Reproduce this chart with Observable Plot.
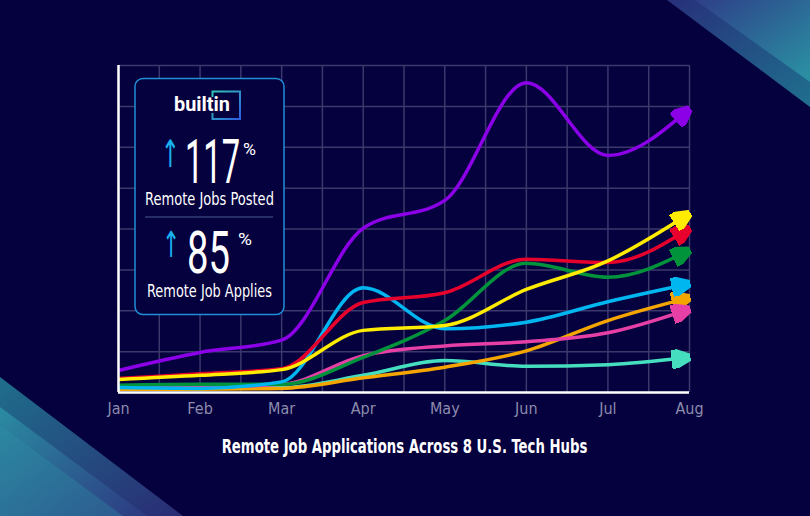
<!DOCTYPE html>
<html><head><meta charset="utf-8">
<script src="https://cdn.jsdelivr.net/npm/d3@7"></script>
<script src="https://cdn.jsdelivr.net/npm/@observablehq/plot@0.6"></script>
<style>
html,body{margin:0;padding:0;background:#05003e;}
#wrap{position:relative;width:810px;height:516px;overflow:hidden;background:#05003e;}
#deco,#over,#chart{position:absolute;left:0;top:0;}
#chart svg{background:transparent;}
</style></head><body>
<div id="wrap">
<svg id="deco" width="810" height="516">
  <defs>
    <linearGradient id="gA" x1="0" y1="0" x2="1" y2="1">
      <stop offset="0" stop-color="#27307a"/><stop offset="1" stop-color="#1f6f8e"/>
    </linearGradient>
    <linearGradient id="gB" x1="0" y1="0" x2="1" y2="1">
      <stop offset="0" stop-color="#2e3f88"/><stop offset="1" stop-color="#2a93a4"/>
    </linearGradient>
    <linearGradient id="gC" x1="0" y1="0" x2="1" y2="1">
      <stop offset="0" stop-color="#1f6e8c"/><stop offset="1" stop-color="#292c74"/>
    </linearGradient>
    <linearGradient id="gD" x1="0" y1="0" x2="1" y2="1">
      <stop offset="0" stop-color="#2a8ca2"/><stop offset="1" stop-color="#2d3a82"/>
    </linearGradient>
  </defs>
  <polygon points="667,0 810,0 810,107" fill="url(#gA)"/>
  <polygon points="695,0 810,0 810,82" fill="url(#gB)"/>
  <polygon points="0,377 183,516 0,516" fill="url(#gC)"/>
  <polygon points="0,407 147,516 0,516" fill="url(#gD)"/>
  <polygon points="0,425 123,516 0,516" fill="#2f8fa6" fill-opacity="0.35"/>
</svg>
<div id="chart"></div>
<svg id="over" width="810" height="516" font-family="'Liberation Sans Narrow','DejaVu Sans Condensed','Roboto Condensed',Roboto,sans-serif">
  <defs>
    <linearGradient id="gLogo" x1="0" y1="0" x2="1" y2="1">
      <stop offset="0" stop-color="#2fc9b4"/><stop offset="1" stop-color="#2f5ee0"/>
    </linearGradient>
  </defs>
  <rect x="135" y="78.5" width="149" height="236" rx="8" fill="#05003e" stroke="#1f8fd6" stroke-width="1.5"/>
  <text class="fit" data-w="56" x="174" y="111.5" font-family="Roboto,sans-serif" font-weight="700" font-size="21" fill="#fff">builtin</text>
  <path d="M212.5,97 V91.5 H240 V119 H212.5 V113" fill="none" stroke="url(#gLogo)" stroke-width="2"/>
  <text class="fit" data-w="19" x="161" y="167" fill="#19b0f0" font-family="'DejaVu Sans',sans-serif" font-size="38">↑</text>
  <text class="fit" data-w="55" x="185" y="183" fill="#fff" font-family="Roboto,sans-serif" font-size="62" font-weight="400">117</text>
  <text class="fit" data-w="13" x="243" y="155" fill="#fff" font-family="Roboto,sans-serif" font-size="17">%</text>
  <text class="fit" data-w="129" x="209.5" y="205" text-anchor="middle" fill="#fff" font-size="18">Remote Jobs Posted</text>
  <line x1="145" x2="273" y1="217" y2="217" stroke="#4a5a8c" stroke-width="1"/>
  <text class="fit" data-w="18" x="162" y="257" fill="#19b0f0" font-family="'DejaVu Sans',sans-serif" font-size="36">↑</text>
  <text class="fit" data-w="43" x="187" y="273" fill="#fff" font-family="Roboto,sans-serif" font-size="60" font-weight="400">85</text>
  <text class="fit" data-w="14" x="238" y="245" fill="#fff" font-family="Roboto,sans-serif" font-size="17">%</text>
  <text class="fit" data-w="125" x="209.5" y="297" text-anchor="middle" fill="#fff" font-size="18">Remote Job Applies</text>
  <text class="fit" data-w="366" x="404.5" y="453" text-anchor="middle" fill="#fff" font-size="20" font-weight="600">Remote Job Applications Across 8 U.S. Tech Hubs</text>
</svg>
</div>
<script>
const months = ["Jan", "Feb", "Mar", "Apr", "May", "Jun", "Jul", "Aug"];
const hubPurple = [27, 49, 64, 201, 235, 379, 290, 347];
const hubYellow = [16, 21, 28, 76, 82, 126, 161, 219];
const hubRed    = [17, 23, 29, 110, 122, 163, 159, 201];
const hubGreen  = [9, 10, 10, 43, 88, 158, 141, 174];
const hubCyan   = [6, 5, 13, 128, 78, 86, 111, 133];
const hubOrange = [4, 4, 5, 18, 31, 51, 88, 116];
const hubPink   = [7, 7, 10, 45, 57, 62, 73, 102];
const hubTeal   = [6, 6, 6, 21, 39, 32, 34, 43];

// drawing order bottom -> top, with line colours
const series = [
  {values: hubTeal, color: "#45dfc0"},
  {values: hubOrange, color: "#f5a500"},
  {values: hubPink, color: "#e640a6"},
  {values: hubGreen, color: "#00933c"},
  {values: hubCyan, color: "#00b6f0"},
  {values: hubRed, color: "#e8002c"},
  {values: hubYellow, color: "#ffec00"},
  {values: hubPurple, color: "#8c00e8"}
];

// horizontally condense overlay texts to their measured widths
document.querySelectorAll("#over text.fit").forEach(el => {
  const target = +el.getAttribute("data-w");
  const w = el.getComputedTextLength();
  if (w > 0) {
    const x = +el.getAttribute("x");
    const s = target / w;
    el.setAttribute("transform", `translate(${x},0) scale(${s},1) translate(${-x},0)`);
  }
});

function arrowHead(color, context) {
  const doc = (context && context.document) || document;
  const ns = "http://www.w3.org/2000/svg";
  const m = doc.createElementNS(ns, "marker");
  m.setAttribute("viewBox", "0 -5 10 10");
  m.setAttribute("refX", "9.5");
  m.setAttribute("refY", "0");
  m.setAttribute("markerWidth", "19");
  m.setAttribute("markerHeight", "19");
  m.setAttribute("markerUnits", "userSpaceOnUse");
  m.setAttribute("orient", "auto");
  const p = doc.createElementNS(ns, "path");
  p.setAttribute("d", "M0,-4.6L10,0L0,4.6Z");
  p.setAttribute("fill", color);
  m.appendChild(p);
  return m;
}

const FONT = "'Liberation Sans Narrow','DejaVu Sans Condensed','Roboto Condensed',Roboto,sans-serif";

function build(marker) {
  return Plot.plot({
    width: 810, height: 430,
    marginLeft: 118, marginRight: 121, marginTop: 65, marginBottom: 38,
    style: {background: "transparent", color: "#8c8cad", fontFamily: FONT, fontSize: "16px", overflow: "visible"},
    x: {domain: [0, 7], ticks: d3.range(0, 8), tickFormat: i => months[i], tickSize: 0, tickPadding: 10, label: null},
    y: {domain: [0, 400], axis: null},
    marks: [
      Plot.ruleX(d3.range(0, 7.001, 0.5), {stroke: "#3b396c", strokeWidth: 1.5}),
      Plot.ruleY(d3.range(0, 401, 50), {stroke: "#3b396c", strokeWidth: 1.5}),
      ...series.map(s => Plot.line(s.values.map((v, i) => ({month: i, value: v})), {
        x: "month", y: "value", stroke: s.color, strokeWidth: 3.5, curve: "monotone-x",
        strokeLinecap: "butt", markerEnd: marker
      })),
      Plot.ruleX([0], {stroke: "white", strokeWidth: 2.5}),
      Plot.ruleY([0], {stroke: "white", strokeWidth: 2.5})
    ]
  });
}
let chart;
try { chart = build(arrowHead); } catch (e) { chart = build("arrow"); }
document.getElementById("chart").appendChild(chart);
</script>
</body></html>
